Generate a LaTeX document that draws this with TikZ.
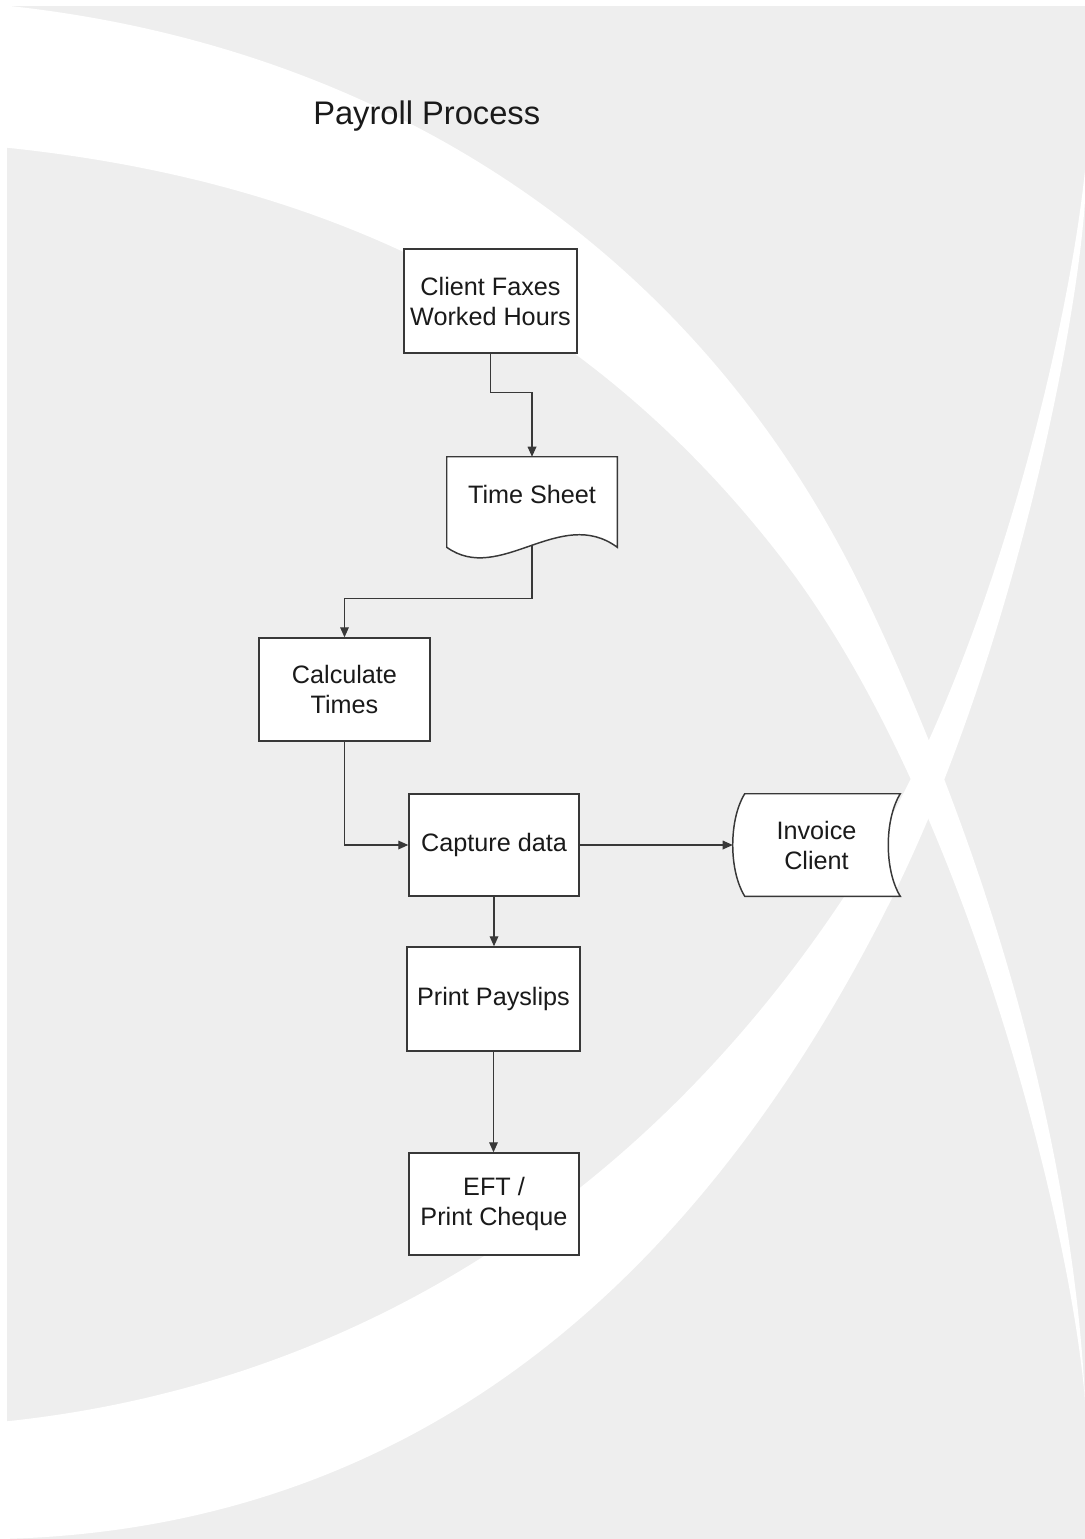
\documentclass[tikz,border=0pt]{standalone}
\usepackage{fontspec}
\setmainfont{Liberation Sans}
\usetikzlibrary{arrows.meta,calc}
\definecolor{pagegray}{HTML}{EEEEEE}
\definecolor{inkline}{HTML}{383838}
\definecolor{inktext}{HTML}{1A1A1A}
\pgfdeclarelayer{back}
\pgfdeclarelayer{outlines}
\pgfsetlayers{back,outlines,main}

\begin{document}
\begin{tikzpicture}[x=0.75pt,y=-0.75pt,
  boxtext/.style={text=inktext, align=center, inner sep=0pt,
    font=\fontsize{18.9}{22.5}\selectfont},
  procbox/.style={boxtext, draw=inkline, line width=1.1pt, fill=white},
  outline/.style={draw=inkline, line width=1.1pt, fill=white},
  link/.style={draw=inkline, line width=0.9pt,
    -{Triangle[length=7.5pt,width=6.5pt]}},
  band/.style={fill=white, draw=none}]

\useasboundingbox (0,0) rectangle (1085,1539);

\begin{pgfonlayer}{back}
  % page background
  \fill[pagegray] (7,6) rectangle (1085,1539);
  % upper crescent, sweeping from the top left down to the right edge
  \path[band] (0,5) .. controls (350,40) and (687,222) .. (867,600)
    .. controls (1037,957) and (1078,1250) .. (1085,1400)
    .. controls (1070,1220) and (963,794) .. (783,560)
    .. controls (583,300) and (320,179) .. (0,147) -- cycle;
  % lower crescent, rising from the bottom left up to the right edge
  \path[band] (1085,170) .. controls (1070,320) and (992,675) .. (842,900)
    .. controls (642,1200) and (350,1387) .. (0,1422) -- (0,1539)
    .. controls (400,1530) and (691,1300) .. (891,900)
    .. controls (1011,660) and (1077,330) .. (1085,200) -- cycle;
\end{pgfonlayer}

% title
\node[anchor=base west, text=inktext, inner sep=0pt,
      font=\fontsize{24.5}{29}\selectfont] (title) at (313,124) {Payroll Process};

% flowchart nodes
\node[procbox, minimum width=129.75pt, minimum height=78pt] (cf) at (490.5,301)
  {Client Faxes\\Worked Hours};
\node[boxtext, minimum width=127.5pt, minimum height=66pt, text depth=10.5pt] (ts)
  at (532,501) {Time Sheet};
\node[procbox, minimum width=128.25pt, minimum height=77.25pt] (ct) at (344.5,689.5)
  {Calculate\\Times};
\node[procbox, minimum width=127.5pt, minimum height=76.5pt] (cd) at (494,845)
  {Capture data};
\node[boxtext, minimum width=125.25pt, minimum height=76.5pt] (ic) at (816.5,845)
  {Invoice\\Client};
\node[procbox, minimum width=129.75pt, minimum height=78pt] (pp) at (493.5,999)
  {Print Payslips};
\node[procbox, minimum width=127.5pt, minimum height=76.5pt] (eft) at (494,1204)
  {EFT /\\Print Cheque};

% document and stored-data outlines behind their labels
\begin{pgfonlayer}{outlines}
  \path[outline] (ts.north west) -- (ts.north east) -- ($(ts.south east)+(0,2)$)
    .. controls ($(ts.south east)+(-57,-40)$) and ($(ts.south west)+(53,40)$)
    .. ($(ts.south west)+(0,2)$) -- cycle;
  \path[outline] ($(ic.north west)+(12,0)$) -- (ic.north east)
    .. controls ($(ic.north east)+(-16,26)$) and ($(ic.south east)+(-16,-26)$)
    .. (ic.south east) -- ($(ic.south west)+(12,0)$)
    .. controls ($(ic.south west)+(-4,-26)$) and ($(ic.north west)+(-4,26)$)
    .. cycle;
\end{pgfonlayer}

% connectors
\draw[link] (cf.south) -- ++(0,39) -| (ts.north);
\draw[link] (ts.south) -- ++(0,53) -| (ct.north);
\draw[link] (ct.south) |- (cd.west);
\draw[link] (cd.east) -- (ic.west);
\draw[link] (cd.south) -- (cd.south |- pp.north);
\draw[link] (pp.south) -- (pp.south |- eft.north);

\end{tikzpicture}
\end{document}
